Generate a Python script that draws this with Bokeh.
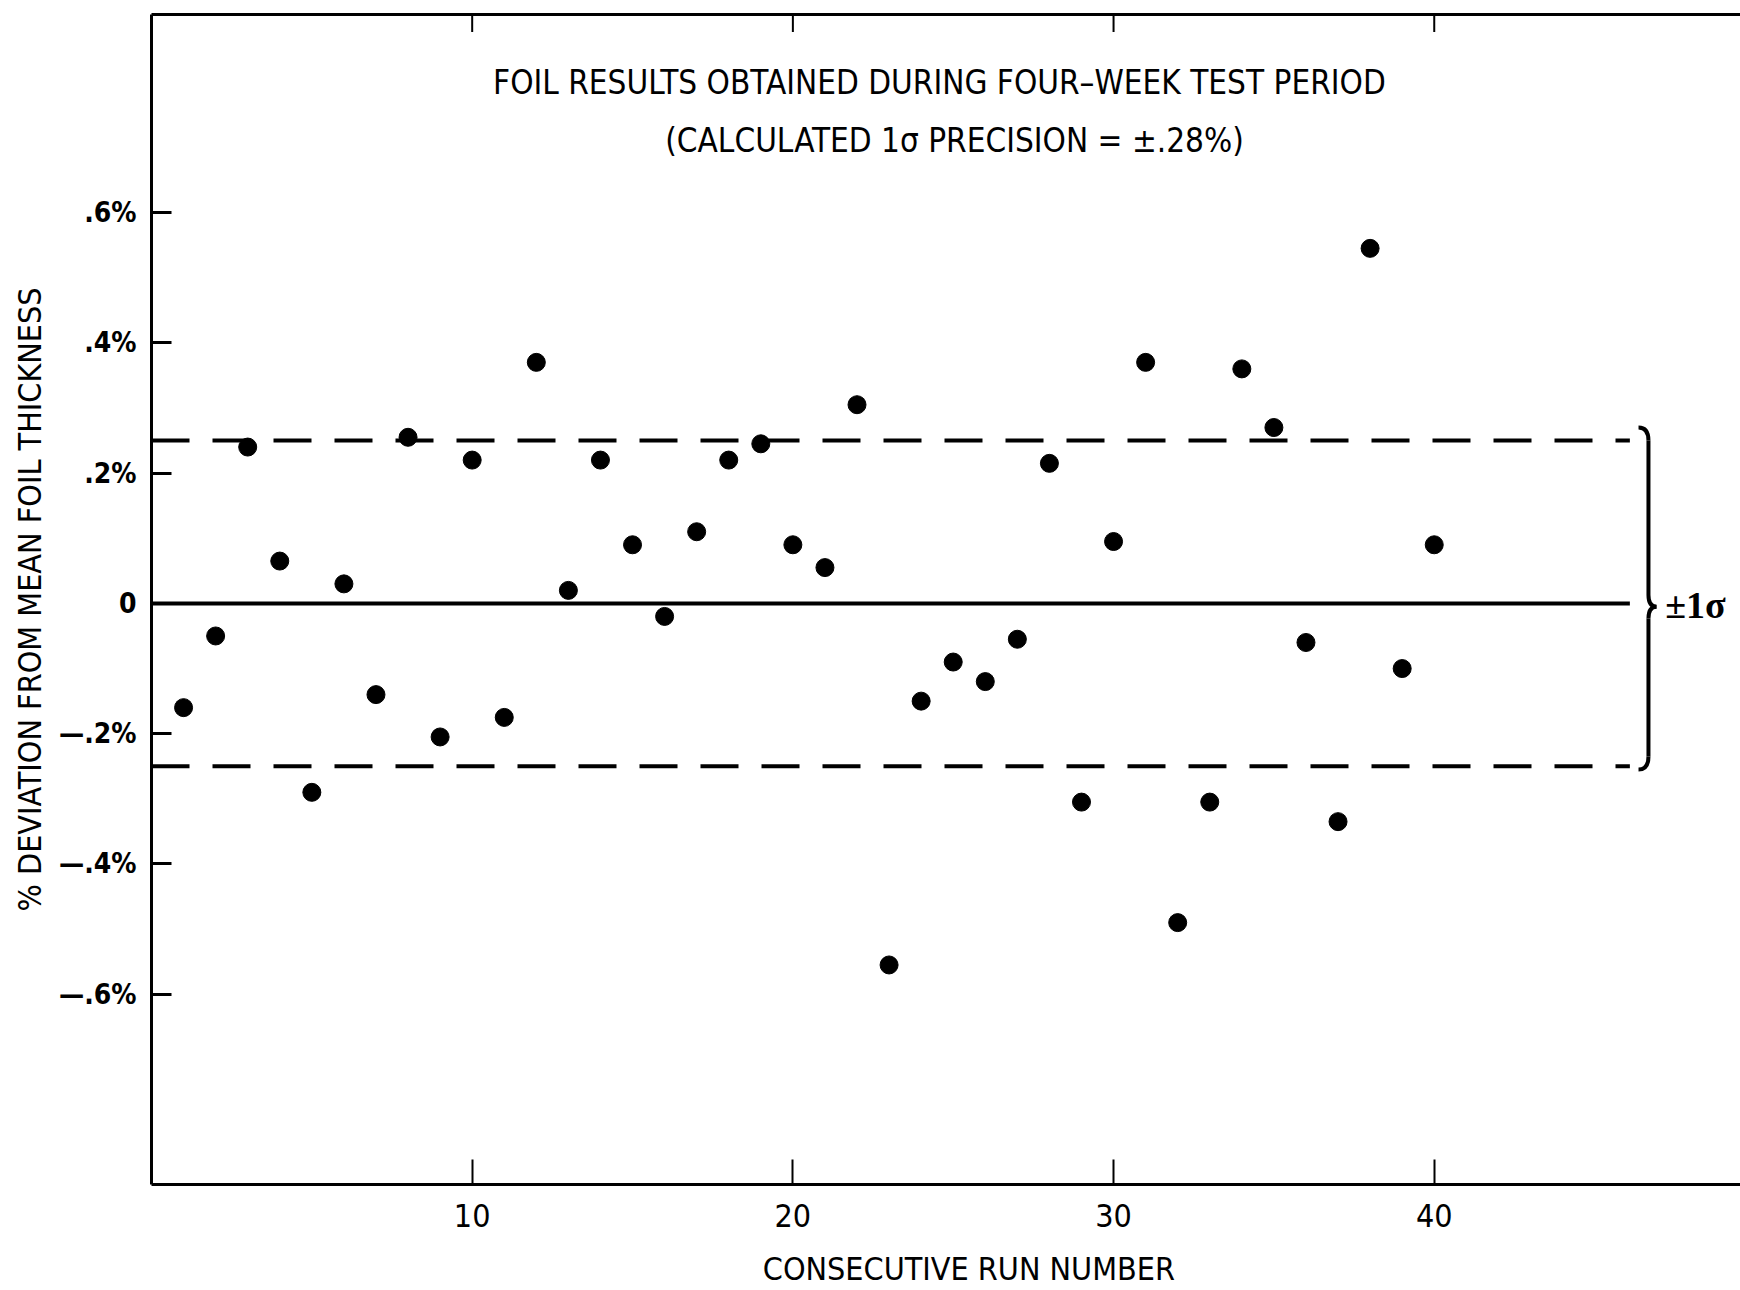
from bokeh.plotting import figure
from bokeh.models import Range1d, LinearAxis, FixedTicker, Label
from bokeh.embed import file_html
from bokeh.resources import INLINE

# ---- data ----
runs = list(range(1, 41))
deviation = [-0.16, -0.05, 0.24, 0.065, -0.29, 0.03, -0.14, 0.255, -0.205, 0.22,
             -0.175, 0.37, 0.02, 0.22, 0.09, -0.02, 0.11, 0.22, 0.245, 0.09,
             0.055, 0.305, -0.555, -0.15, -0.09, -0.12, -0.055, 0.215, -0.305, 0.095,
             0.37, -0.49, -0.305, 0.36, 0.27, -0.06, -0.335, 0.545, -0.10, 0.09]
y_ticks = [-0.6, -0.4, -0.2, 0.0, 0.2, 0.4, 0.6]
y_tick_labels = ["\u2014.6%", "\u2014.4%", "\u2014.2%", "0", ".2%", ".4%", ".6%"]
x_ticks = [10, 20, 30, 40]
sigma_band = [0.25, -0.25]
mean_line = [0.0]
ref_line_end = 46.1

TITLE1 = "FOIL RESULTS OBTAINED DURING FOUR\u2013WEEK TEST PERIOD"
TITLE2 = "(CALCULATED 1\u03c3 PRECISION = \u00b1.28%)"
XLABEL = "CONSECUTIVE RUN NUMBER"
YLABEL = "% DEVIATION FROM MEAN FOIL THICKNESS"
FONT = "Liberation Sans Narrow, DejaVu Sans Condensed, sans-serif"

X0, X1 = 0, 49.55
Y0, Y1 = -0.892, 0.904

p = figure(width=1740, height=1290,
           x_range=Range1d(X0, X1), y_range=Range1d(Y0, Y1),
           output_backend="svg", toolbar_location=None,
           min_border_left=151, min_border_right=0,
           min_border_top=14, min_border_bottom=106)
p.outline_line_color = None
p.grid.visible = False
p.background_fill_color = "white"
p.border_fill_color = "white"

# bottom axis
xa = p.xaxis[0]
xa.ticker = FixedTicker(ticks=x_ticks)
xa.major_tick_in = 25
xa.major_tick_out = 0
xa.minor_tick_line_color = None
xa.axis_line_width = 3
xa.major_tick_line_width = 2
xa.major_label_text_font = FONT
xa.major_label_text_font_size = "32px"
xa.major_label_text_color = "black"
xa.major_label_standoff = 19
# leading no-break spaces put the title slightly right of centre, as in the original
xa.axis_label = "\u00a0" * 5 + XLABEL
xa.axis_label_text_font = FONT
xa.axis_label_text_font_style = "normal"
xa.axis_label_text_font_size = "32px"
xa.axis_label_text_color = "black"
xa.axis_label_standoff = 20

# left axis
ya = p.yaxis[0]
ya.ticker = FixedTicker(ticks=y_ticks)
ya.major_label_overrides = {t: l for t, l in zip(y_ticks, y_tick_labels)}
ya.major_tick_in = 20
ya.major_tick_out = 0
ya.minor_tick_line_color = None
ya.axis_line_width = 3
ya.major_tick_line_width = 3
ya.major_label_text_font = FONT
ya.major_label_text_font_style = "bold"
ya.major_label_text_font_size = "28px"
ya.major_label_text_color = "black"
ya.major_label_standoff = 15
ya.axis_label = YLABEL
ya.axis_label_text_font = FONT
ya.axis_label_text_font_style = "normal"
ya.axis_label_text_font_size = "32px"
ya.axis_label_text_color = "black"
ya.axis_label_standoff = 7

# top frame line (no labels)
top = LinearAxis(ticker=FixedTicker(ticks=[]), major_tick_in=0, major_tick_out=0,
                 minor_tick_line_color=None, axis_line_width=3)
p.add_layout(top, "above")
# top inward ticks at the same run numbers
top_tick_len = 0.027
p.segment(x0=x_ticks, y0=[Y1] * len(x_ticks), x1=x_ticks,
          y1=[Y1 - top_tick_len] * len(x_ticks), line_color="black", line_width=2)

# reference lines
p.segment(x0=[0], y0=mean_line, x1=[ref_line_end], y1=mean_line,
          line_color="black", line_width=4)
p.segment(x0=[0] * len(sigma_band), y0=sigma_band,
          x1=[ref_line_end] * len(sigma_band), y1=sigma_band,
          line_color="black", line_width=4, line_dash="38 23")

# data points
p.scatter(runs, deviation, size=18, marker="circle",
          fill_color="black", line_color="black")

# brace for +/- 1 sigma
bx_hook, bx_bar, bx_tip = 46.37, 46.68, 46.93
b_top, b_hook, b_tipg, b_tip = 0.27, 0.25, 0.013, -0.005
b_tipg2, b_hook2, b_bot = -0.023, -0.235, -0.255
p.quadratic(x0=[bx_hook, bx_bar, bx_tip, bx_bar],
            y0=[b_top, b_tipg, b_tip, b_hook2],
            x1=[bx_bar, bx_tip, bx_bar, bx_hook],
            y1=[b_hook, b_tip, b_tipg2, b_bot],
            cx=[bx_bar, bx_bar, bx_bar, bx_bar],
            cy=[b_top, b_tip, b_tip, b_bot],
            line_color="black", line_width=4)
p.segment(x0=[bx_bar, bx_bar], y0=[b_hook, b_tipg2], x1=[bx_bar, bx_bar], y1=[b_tipg, b_hook2],
          line_color="black", line_width=4)
p.add_layout(Label(x=47.2, y=-0.003, text="\u00b11\u03c3", text_align="left",
                   text_baseline="middle", text_font="Liberation Serif",
                   text_font_style="bold", text_font_size="38px", text_color="black"))

# titles
p.add_layout(Label(x=24.57, y=0.80, text=TITLE1, text_align="center",
                   text_baseline="middle", text_font=FONT,
                   text_font_size="33px", text_color="black"))
p.add_layout(Label(x=25.04, y=0.711, text=TITLE2, text_align="center",
                   text_baseline="middle", text_font=FONT,
                   text_font_size="33px", text_color="black"))

open("out.html", "w").write(file_html(p, INLINE))
